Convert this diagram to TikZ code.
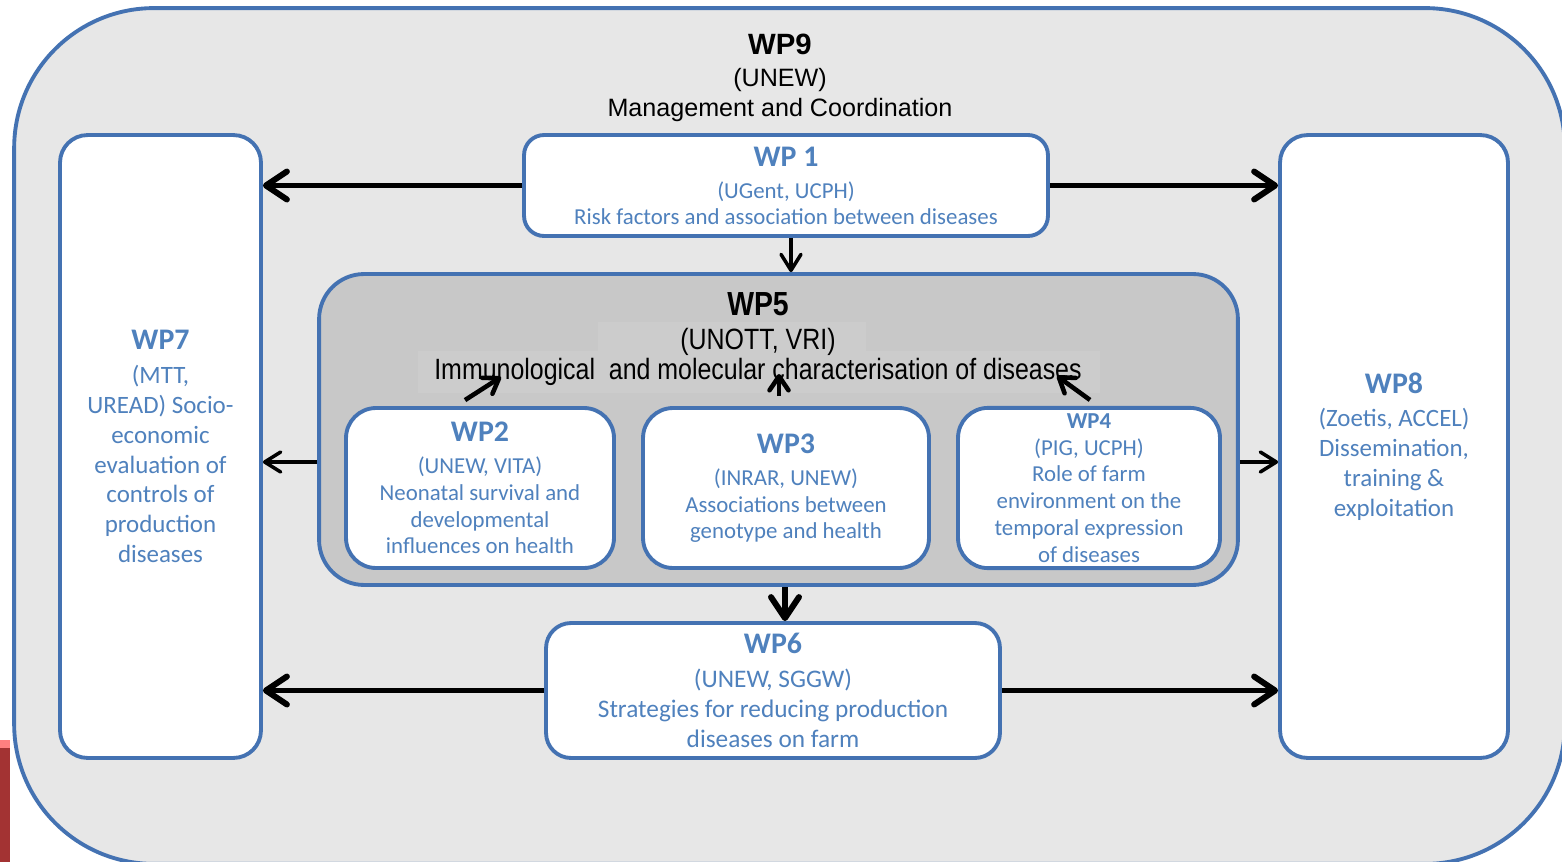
\documentclass[tikz,border=0pt]{standalone}
\usepackage{fontspec}
\setmainfont{Carlito}
\newfontfamily\arialfont{Liberation Sans}
\newfontfamily\narrowfont[FakeStretch=0.85]{Liberation Sans}
\usetikzlibrary{arrows.meta}
\definecolor{wpline}{RGB}{68,114,178}
\definecolor{wptext}{RGB}{79,129,189}
\definecolor{outerfill}{RGB}{231,231,231}
\definecolor{innerfill}{RGB}{200,200,200}
\definecolor{textpatch}{RGB}{204,204,204}
\tikzstyle{block} = [draw=wpline, line width=2.2pt, fill=white,
    rounded corners=0.6cm, align=center, text=wptext,
    font=\fontsize{13}{15.2}\selectfont]
\tikzstyle{bigarrow} = [line width=3.4pt,
    -{Straight Barb[length=0.42cm, width=0.56cm, line cap=round, line join=round]}]
\tikzstyle{thinarrow} = [line width=2pt,
    -{Straight Barb[length=0.32cm, width=0.4cm, line cap=round, line join=round]}]
\tikzstyle{smallarrow} = [line width=2.6pt,
    -{Straight Barb[length=0.28cm, width=0.38cm, line cap=round, line join=round]}]
\newcommand{\wptitle}[1]{{\bfseries\fontsize{17}{20}\selectfont #1}}

\begin{document}
\begin{tikzpicture}[x=0.02cm, y=-0.02cm]

    \useasboundingbox (0,0) rectangle (1562,862);
    \clip (0,0) rectangle (1562,862);
    \fill[white] (0,0) rectangle (1562,862);

    % Outer frame
    \node (wp9) [draw=wpline, line width=2.2pt, fill=outerfill, rounded corners=2.8cm,
        minimum width=31.02cm, minimum height=17.12cm] at (789.5,436) {};
    \node (wp9t) [align=center, font=\arialfont\fontsize{14.3}{17}\selectfont] at (780,78)
        {{\bfseries\fontsize{16.7}{20}\selectfont WP9}\\[1pt] (UNEW)\\ Management and Coordination};
    \fill[red!55!black!80] (0,748) rectangle (10,862);
    \fill[red!50!white] (0,740) rectangle (10,748);

    % Blocks
    \node (wp7) [block, rounded corners=0.55cm, minimum width=4.02cm, minimum height=12.46cm,
        font=\fontsize{14.2}{17}\selectfont] at (160.5,446.5)
        {\wptitle{WP7}\\[2.3pt] (MTT,\\ UREAD) Socio-\\ economic\\ evaluation of\\ controls of\\ production\\ diseases};
    \node (wp8) [block, rounded corners=0.55cm, minimum width=4.56cm, minimum height=12.46cm,
        font=\fontsize{14.2}{17}\selectfont] at (1394,446.5)
        {\wptitle{WP8}\\[2.3pt] (Zoetis, ACCEL)\\ Dissemination,\\ training \&\\ exploitation};
    \node (wp1) [block, rounded corners=0.4cm, minimum width=10.48cm, minimum height=2.02cm,
        font=\fontsize{13}{14.8}\selectfont] at (786,185.5)
        {\wptitle{WP 1}\\[3.3pt] (UGent, UCPH)\\ Risk factors and association between diseases};
    \node (wp5) [draw=wpline, line width=2.2pt, fill=innerfill, rounded corners=0.9cm,
        minimum width=18.38cm, minimum height=6.22cm] at (778.5,429.5) {};
    \fill[textpatch] (598,322) rectangle (866,351);
    \fill[textpatch] (418,351) rectangle (1100,393);
    \node (wp5t) [align=center, font=\narrowfont\fontsize{16.7}{17}\selectfont] at (758,339)
        {{\bfseries\fontsize{19}{20}\selectfont WP5}\\[2.3pt] (UNOTT, VRI)\\ Immunological~ and molecular characterisation of diseases};
    \node (wp2) [block, minimum width=5.36cm, minimum height=3.2cm] at (480,488)
        {\wptitle{WP2}\\[3pt] (UNEW, VITA)\\ Neonatal survival and\\ developmental\\ influences on health};
    \node (wp3) [block, minimum width=5.72cm, minimum height=3.2cm, font=\fontsize{13}{15}\selectfont] at (786,488)
        {\wptitle{WP3}\\[3.7pt] (INRAR, UNEW)\\ Associations between\\ genotype and health};
    \node (wp4) [block, minimum width=5.24cm, minimum height=3.2cm] at (1089,488)
        {\textbf{WP4}\\ (PIG, UCPH)\\ Role of farm\\ environment on the\\ temporal expression\\ of diseases};
    \node (wp6) [block, rounded corners=0.5cm, minimum width=9.08cm, minimum height=2.7cm,
        font=\fontsize{14.4}{17}\selectfont] at (773,690.5)
        {\wptitle{WP6}\\[2.3pt] (UNEW, SGGW)\\ Strategies for reducing production\\ diseases on farm};

    % Arrows
    \draw [bigarrow] (wp1.west) -- (wp1.west -| wp7.east);
    \draw [bigarrow] (wp1.east) -- (wp1.east -| wp8.west);
    \coordinate (m15) at ([xshift=0.1cm]wp1.south);
    \draw [thinarrow] (m15) -- (m15 |- wp5.north);
    \coordinate (m5l) at ([shift={(0,32.5)}]wp5.west);
    \coordinate (m5r) at ([shift={(0,32.5)}]wp5.east);
    \draw [thinarrow] (m5l) -- (m5l -| wp7.east);
    \draw [thinarrow] (m5r) -- (m5r -| wp8.west);
    \coordinate (m56) at ([xshift=0.13cm]wp5.south);
    \draw [bigarrow] (m56) -- (m56 |- wp6.north);
    \draw [bigarrow] (wp6.west) -- (wp6.west -| wp7.east);
    \draw [bigarrow] (wp6.east) -- (wp6.east -| wp8.west);

    % Arrows into WP5
    \coordinate (t2) at (501,377);
    \coordinate (t3) at (779,374);
    \coordinate (t4) at (1057,376);
    \draw [smallarrow] ([shift={(-15,-6)}]wp2.north) -- (t2);
    \draw [smallarrow] ([shift={(-7,-10)}]wp3.north) -- (t3);
    \draw [smallarrow] ([shift={(1,-6)}]wp4.north) -- (t4);

\end{tikzpicture}
\end{document}
